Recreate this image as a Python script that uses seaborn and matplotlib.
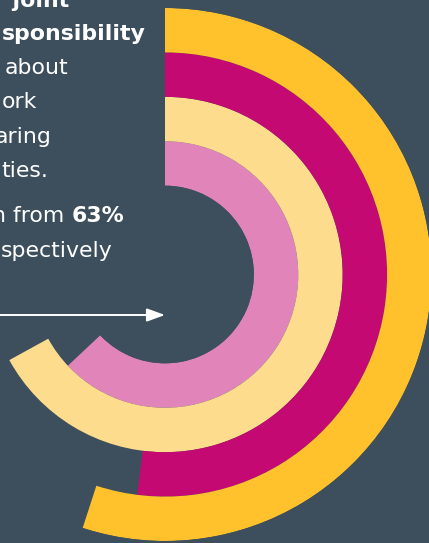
import numpy as np
import pandas as pd
import matplotlib
matplotlib.use("Agg")
import matplotlib.pyplot as plt
from matplotlib.patches import FancyArrowPatch
import seaborn as sns

# Rings listed from the innermost outward; each share is a percent of a full turn
groups = ["Group D", "Group C", "Group B", "Group A"]
shares = [63, 67, 52, 55]
ring_colors = ["#E084BA", "#FEDC8D", "#C50972", "#FFC12C"]

# Text column on the left (text, right edge px, baseline px, weight)
text_lines = [
    ("r joint", 69, 6.7, "bold"),
    ("sponsibility", 146, 40.5, "bold"),
    ("about", 68, 74.5, "normal"),
    ("ork", 37, 108.5, "normal"),
    ("aring", 51, 143, "normal"),
    ("ties.", 48, 177, "normal"),
    ("n from", 64.5, 222.5, "normal"),
    ("63%", 124, 222.5, "bold"),
    ("spectively", 113, 257, "normal"),
]

sns.set_theme(style="white")
plt.rcParams["font.family"] = ["DejaVu Sans"]

BG = "#3D4F5C"
W, H = 429, 543
fig = plt.figure(figsize=(W / 100, H / 100), dpi=100, facecolor=BG)

# polar axes centred on the ring centre, outer edge = outermost ring
cx, cy, R = 165, 274.5, 266.5
ax = fig.add_axes([(cx - R) / W, (H - cy - R) / H, 2 * R / W, 2 * R / H],
                  projection="polar")

df = pd.DataFrame({"group": groups,
                   "angle": np.deg2rad(np.array(shares, dtype=float) * 3.6)})
sns.barplot(data=df, x="angle", y="group", hue="group", order=groups,
            hue_order=groups, palette=ring_colors, orient="h", width=1.0,
            saturation=1, errorbar=None, dodge=False, legend=False,
            linewidth=0, ax=ax)

ax.set_theta_zero_location("N")
ax.set_theta_direction(-1)
ax.set_ylim(-0.5, 3.5)
ax.set_rorigin(-2.5)
ax.set_axis_off()


def fpos(x, y):
    return x / W, 1 - y / H


for s, xr, yb, wt in text_lines:
    fig.text(*fpos(xr, yb), s, color="white", fontsize=15.8, fontweight=wt,
             ha="right", va="baseline")

arrow = FancyArrowPatch(fpos(-5, 315), fpos(165, 315), transform=fig.transFigure,
                        arrowstyle="-|>,head_length=0.55,head_width=0.2",
                        mutation_scale=20, color="white", lw=1.4,
                        shrinkA=0, shrinkB=0)
fig.add_artist(arrow)

fig.savefig("out.png", dpi=100, facecolor=BG)
